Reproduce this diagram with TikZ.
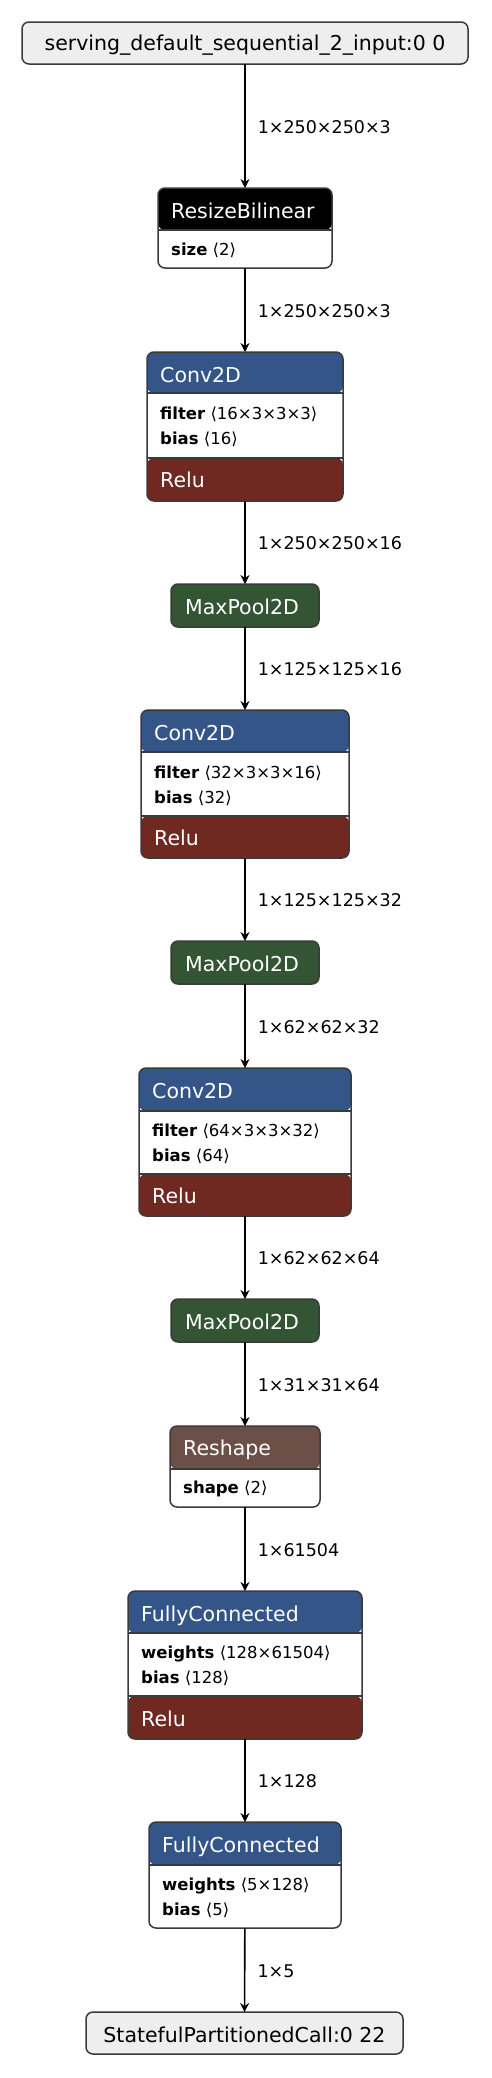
\documentclass[tikz,border=0pt]{standalone}
\usepackage{fontspec}
\setmainfont{DejaVu Sans}
\usetikzlibrary{arrows.meta}
\definecolor{convblue}{HTML}{335588}
\definecolor{relured}{HTML}{702921}
\definecolor{poolgreen}{HTML}{335533}
\definecolor{shapebrown}{HTML}{6C4F47}
\definecolor{iofill}{HTML}{EEEEEE}
\definecolor{bordercol}{HTML}{3A3A3A}
\newcommand{\hdfont}{\fontsize{20.5}{24}\selectfont}
\newcommand{\atfont}{\fontsize{16.5}{20}\selectfont}
\newcommand{\lbfont}{\fontsize{17.5}{21}\selectfont}
\begin{document}
\begin{tikzpicture}[x=1pt,y=-1pt,
  shell/.style={rectangle, rounded corners=7pt, inner sep=0pt, outer sep=0pt, fill=white},
  frameline/.style={draw=bordercol, line width=1.5pt, rounded corners=7pt},
  divider/.style={draw=bordercol, line width=1.2pt},
  hd/.style={anchor=base west, inner sep=0pt, text=white, font=\hdfont},
  iotext/.style={anchor=base, inner sep=0pt, text=black, font=\hdfont},
  attrtext/.style={anchor=base west, inner sep=0pt, text=black, font=\atfont},
  edge/.style={draw=black, line width=1.6pt, -{Stealth[length=9pt,width=9pt,inset=3pt]}},
  lbl/.style={midway, anchor=base west, inner sep=0pt, xshift=12pt, yshift=-7pt, font=\lbfont, text=black}
]
\useasboundingbox[fill=white] (0,0) rectangle (492,2078);

% ---------- input ----------
\node[shell, fill=iofill, minimum width=446pt, minimum height=42pt] (in) at (245,43) {};
\draw[frameline] (in.north west) rectangle (in.south east);
\node[iotext] (intext) at ([yshift=-28pt]in.north) {serving\_default\_sequential\_2\_input:0 0};

% ---------- ResizeBilinear ----------
\node[shell, minimum width=174pt, minimum height=80pt,
  path picture={\fill[black] (path picture bounding box.north west) rectangle ([yshift=-42pt]path picture bounding box.north east);}] (rb) at (245,228) {};
\draw[divider] ([yshift=-42pt]rb.north west) -- ([yshift=-42pt]rb.north east);
\draw[frameline] (rb.north west) rectangle (rb.south east);
\node[hd] (rbh) at ([xshift=13pt,yshift=-30pt]rb.north west) {ResizeBilinear};
\node[attrtext] (rba) at ([xshift=13pt,yshift=-67pt]rb.north west) {\textbf{size} ⟨2⟩};

% ---------- Conv2D 1 ----------
\node[shell, minimum width=196pt, minimum height=149pt,
  path picture={\fill[convblue] (path picture bounding box.north west) rectangle ([yshift=-41pt]path picture bounding box.north east);
                \fill[relured] ([yshift=-106pt]path picture bounding box.north west) rectangle (path picture bounding box.south east);}] (c1) at (245,426.5) {};
\draw[divider] ([yshift=-41pt]c1.north west) -- ([yshift=-41pt]c1.north east);
\draw[divider] ([yshift=-106pt]c1.north west) -- ([yshift=-106pt]c1.north east);
\draw[frameline] (c1.north west) rectangle (c1.south east);
\node[hd] (c1h) at ([xshift=13pt,yshift=-30pt]c1.north west) {Conv2D};
\node[attrtext] (c1a) at ([xshift=13pt,yshift=-67pt]c1.north west) {\textbf{filter} ⟨16×3×3×3⟩};
\node[attrtext] (c1b) at ([xshift=13pt,yshift=-92pt]c1.north west) {\textbf{bias} ⟨16⟩};
\node[hd] (c1r) at ([xshift=13pt,yshift=-135.5pt]c1.north west) {Relu};

% ---------- MaxPool 1 ----------
\node[shell, fill=poolgreen, minimum width=148pt, minimum height=43pt] (mp1) at (245,605.5) {};
\draw[frameline] (mp1.north west) rectangle (mp1.south east);
\node[hd] (mp1h) at ([xshift=14pt,yshift=-30pt]mp1.north west) {MaxPool2D};

% ---------- Conv2D 2 ----------
\node[shell, minimum width=208pt, minimum height=148pt,
  path picture={\fill[convblue] (path picture bounding box.north west) rectangle ([yshift=-42pt]path picture bounding box.north east);
                \fill[relured] ([yshift=-106pt]path picture bounding box.north west) rectangle (path picture bounding box.south east);}] (c2) at (245,784) {};
\draw[divider] ([yshift=-42pt]c2.north west) -- ([yshift=-42pt]c2.north east);
\draw[divider] ([yshift=-106pt]c2.north west) -- ([yshift=-106pt]c2.north east);
\draw[frameline] (c2.north west) rectangle (c2.south east);
\node[hd] (c2h) at ([xshift=13pt,yshift=-30pt]c2.north west) {Conv2D};
\node[attrtext] (c2a) at ([xshift=13pt,yshift=-68pt]c2.north west) {\textbf{filter} ⟨32×3×3×16⟩};
\node[attrtext] (c2b) at ([xshift=13pt,yshift=-93pt]c2.north west) {\textbf{bias} ⟨32⟩};
\node[hd] (c2r) at ([xshift=13pt,yshift=-135.5pt]c2.north west) {Relu};

% ---------- MaxPool 2 ----------
\node[shell, fill=poolgreen, minimum width=148pt, minimum height=43pt] (mp2) at (245,962.5) {};
\draw[frameline] (mp2.north west) rectangle (mp2.south east);
\node[hd] (mp2h) at ([xshift=14pt,yshift=-30pt]mp2.north west) {MaxPool2D};

% ---------- Conv2D 3 ----------
\node[shell, minimum width=212pt, minimum height=148pt,
  path picture={\fill[convblue] (path picture bounding box.north west) rectangle ([yshift=-43pt]path picture bounding box.north east);
                \fill[relured] ([yshift=-106pt]path picture bounding box.north west) rectangle (path picture bounding box.south east);}] (c3) at (245,1142) {};
\draw[divider] ([yshift=-43pt]c3.north west) -- ([yshift=-43pt]c3.north east);
\draw[divider] ([yshift=-106pt]c3.north west) -- ([yshift=-106pt]c3.north east);
\draw[frameline] (c3.north west) rectangle (c3.south east);
\node[hd] (c3h) at ([xshift=13pt,yshift=-30pt]c3.north west) {Conv2D};
\node[attrtext] (c3a) at ([xshift=13pt,yshift=-68pt]c3.north west) {\textbf{filter} ⟨64×3×3×32⟩};
\node[attrtext] (c3b) at ([xshift=13pt,yshift=-93pt]c3.north west) {\textbf{bias} ⟨64⟩};
\node[hd] (c3r) at ([xshift=13pt,yshift=-135.5pt]c3.north west) {Relu};

% ---------- MaxPool 3 ----------
\node[shell, fill=poolgreen, minimum width=148pt, minimum height=43pt] (mp3) at (245,1320.5) {};
\draw[frameline] (mp3.north west) rectangle (mp3.south east);
\node[hd] (mp3h) at ([xshift=14pt,yshift=-30pt]mp3.north west) {MaxPool2D};

% ---------- Reshape ----------
\node[shell, minimum width=150pt, minimum height=81pt,
  path picture={\fill[shapebrown] (path picture bounding box.north west) rectangle ([yshift=-43pt]path picture bounding box.north east);}] (rs) at (245,1466.5) {};
\draw[divider] ([yshift=-43pt]rs.north west) -- ([yshift=-43pt]rs.north east);
\draw[frameline] (rs.north west) rectangle (rs.south east);
\node[hd] (rsh) at ([xshift=13pt,yshift=-29.5pt]rs.north west) {Reshape};
\node[attrtext] (rsa) at ([xshift=13pt,yshift=-67pt]rs.north west) {\textbf{shape} ⟨2⟩};

% ---------- FullyConnected 1 ----------
\node[shell, minimum width=234pt, minimum height=148pt,
  path picture={\fill[convblue] (path picture bounding box.north west) rectangle ([yshift=-42pt]path picture bounding box.north east);
                \fill[relured] ([yshift=-105pt]path picture bounding box.north west) rectangle (path picture bounding box.south east);}] (fc1) at (245,1665) {};
\draw[divider] ([yshift=-42pt]fc1.north west) -- ([yshift=-42pt]fc1.north east);
\draw[divider] ([yshift=-105pt]fc1.north west) -- ([yshift=-105pt]fc1.north east);
\draw[frameline] (fc1.north west) rectangle (fc1.south east);
\node[hd] (fc1h) at ([xshift=13pt,yshift=-30pt]fc1.north west) {FullyConnected};
\node[attrtext] (fc1a) at ([xshift=13pt,yshift=-67pt]fc1.north west) {\textbf{weights} ⟨128×61504⟩};
\node[attrtext] (fc1b) at ([xshift=13pt,yshift=-92pt]fc1.north west) {\textbf{bias} ⟨128⟩};
\node[hd] (fc1r) at ([xshift=13pt,yshift=-135pt]fc1.north west) {Relu};

% ---------- FullyConnected 2 ----------
\node[shell, minimum width=192pt, minimum height=106pt,
  path picture={\fill[convblue] (path picture bounding box.north west) rectangle ([yshift=-43pt]path picture bounding box.north east);}] (fc2) at (245,1875) {};
\draw[divider] ([yshift=-43pt]fc2.north west) -- ([yshift=-43pt]fc2.north east);
\draw[frameline] (fc2.north west) rectangle (fc2.south east);
\node[hd] (fc2h) at ([xshift=13pt,yshift=-30pt]fc2.north west) {FullyConnected};
\node[attrtext] (fc2a) at ([xshift=13pt,yshift=-68pt]fc2.north west) {\textbf{weights} ⟨5×128⟩};
\node[attrtext] (fc2b) at ([xshift=13pt,yshift=-93pt]fc2.north west) {\textbf{bias} ⟨5⟩};

% ---------- output ----------
\node[shell, fill=iofill, minimum width=317pt, minimum height=42pt] (out) at (244.5,2033) {};
\draw[frameline] (out.north west) rectangle (out.south east);
\node[iotext] (outtext) at ([yshift=-30pt]out.north) {StatefulPartitionedCall:0 22};

% ---------- edges ----------
\draw[edge] (in) -- (rb) node[lbl] (e1) {1×250×250×3};
\draw[edge] (rb) -- (c1) node[lbl] (e2) {1×250×250×3};
\draw[edge] (c1) -- (mp1) node[lbl] (e3) {1×250×250×16};
\draw[edge] (mp1) -- (c2) node[lbl] (e4) {1×125×125×16};
\draw[edge] (c2) -- (mp2) node[lbl] (e5) {1×125×125×32};
\draw[edge] (mp2) -- (c3) node[lbl] (e6) {1×62×62×32};
\draw[edge] (c3) -- (mp3) node[lbl] (e7) {1×62×62×64};
\draw[edge] (mp3) -- (rs) node[lbl] (e8) {1×31×31×64};
\draw[edge] (rs) -- (fc1) node[lbl] (e9) {1×61504};
\draw[edge] (fc1) -- (fc2) node[lbl] (e10) {1×128};
\draw[edge] (fc2) -- (out) node[lbl] (e11) {1×5};
\end{tikzpicture}
\end{document}
